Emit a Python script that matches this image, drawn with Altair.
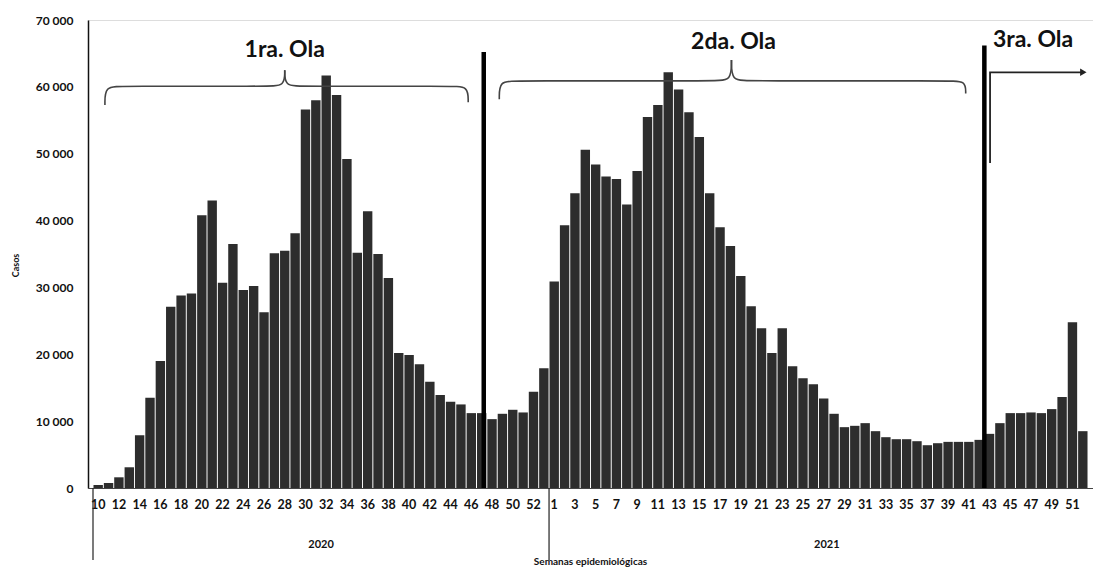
import altair as alt
import pandas as pd

# ---- data ----
weeks_2020 = [10, 11, 12, 13, 14, 15, 16, 17, 18, 19, 20, 21, 22, 23, 24, 25, 26, 27, 28, 29,
              30, 31, 32, 33, 34, 35, 36, 37, 38, 39, 40, 41, 42, 43, 44, 45, 46, 47, 48, 49,
              50, 51, 52, 53]
cases_2020 = [450, 750, 1600, 3100, 7900, 13500, 19000, 27100, 28800, 29100,
              40800, 43000, 30700, 36500, 29600, 30200, 26300, 35100, 35500, 38100,
              56600, 58000, 61700, 58800, 49200, 35200, 41400, 35000, 31400, 20200,
              19900, 18500, 15900, 13900, 12900, 12500, 11200, 11200, 10300, 11100,
              11700, 11300, 14400, 17900]
weeks_2021 = [1, 2, 3, 4, 5, 6, 7, 8, 9, 10, 11, 12, 13, 14, 15, 16, 17, 18, 19, 20,
              21, 22, 23, 24, 25, 26, 27, 28, 29, 30, 31, 32, 33, 34, 35, 36, 37, 38, 39, 40,
              41, 42, 43, 44, 45, 46, 47, 48, 49, 50, 51, 52]
cases_2021 = [30900, 39300, 44100, 50600, 48400, 46600, 46200, 42400, 47400, 55500,
              57300, 62200, 59600, 56200, 52500, 44100, 39000, 36200, 31700, 27200,
              23900, 20200, 23900, 18200, 16400, 15500, 13400, 11100, 9100, 9300,
              9700, 8500, 7600, 7300, 7300, 7000, 6400, 6700, 6900, 6900,
              6900, 7200, 8100, 9700, 11200, 11200, 11300, 11200, 11800, 13600,
              24800, 8500]
labels_2020 = [10, 12, 14, 16, 18, 20, 22, 24, 26, 28, 30, 32, 34, 36, 38, 40, 42, 44, 46, 48, 50, 52]
labels_2021 = [1, 3, 5, 7, 9, 11, 13, 15, 17, 19, 21, 23, 25, 27, 29, 31, 33, 35, 37, 39, 41, 43,
               45, 47, 49, 51]
y_ticks = [0, 10000, 20000, 30000, 40000, 50000, 60000, 70000]
years = ["2020", "2021"]
wave_names = ["1ra. Ola", "2da. Ola", "3ra. Ola"]

W, H = 1005, 468
FONT = "Lato"

n20 = len(weeks_2020)
rows = []
for i, (w, c) in enumerate(zip(weeks_2020, cases_2020)):
    rows.append({"idx": i, "year": "2020", "week": w, "cases": c})
for j, (w, c) in enumerate(zip(weeks_2021, cases_2021)):
    rows.append({"idx": n20 + j, "year": "2021", "week": w, "cases": c})
df = pd.DataFrame(rows)

# week tick labels (drawn as a text layer so none are thinned out)
tick_rows = [{"idx": weeks_2020.index(w), "t": str(w)} for w in labels_2020] + \
            [{"idx": n20 + weeks_2021.index(w), "t": str(w)} for w in labels_2021]
tick_df = pd.DataFrame(tick_rows)

xscale = alt.Scale(domain=[-0.5, len(rows) - 0.5], nice=False, zero=False)
yscale = alt.Scale(domain=[0, 70000], nice=False)

xaxis = alt.Axis(values=[0], labels=False, ticks=False, grid=False,
                 domainColor="#444", domainWidth=1.2,
                 title="Semanas epidemiológicas", titleFont=FONT, titleFontSize=10,
                 titleFontWeight="bold", titleColor="#111", titleX=502, titleY=73,
                 titleBaseline="middle", titleAnchor="middle", titleAlign="center")
yaxis = alt.Axis(values=y_ticks, labelExpr="replace(format(datum.value, ','), ',', ' ')",
                 ticks=False, grid=False, labelFont=FONT, labelFontWeight="bold",
                 labelFontSize=12, labelColor="#111", labelPadding=15,
                 domainColor="#111", domainWidth=1.5,
                 title="Casos", titleFont=FONT, titleFontSize=9, titleFontWeight="bold",
                 titleColor="#111", titleX=-73, titleY=245, titleAngle=-90,
                 titleBaseline="middle", titleAlign="center")

bars = alt.Chart(df).mark_bar(size=9.4, color="#2d2d2d").encode(
    x=alt.X("idx:Q", scale=xscale, axis=xaxis),
    y=alt.Y("cases:Q", scale=yscale, axis=yaxis),
)

ticks = alt.Chart(tick_df).mark_text(font=FONT, fontSize=12.5, fontWeight="bold", color="#111",
                                     baseline="middle").encode(
    x="idx:Q", y=alt.value(H + 17), text="t:N")

# wave separators
sep_df = pd.DataFrame({"x": [37.2, 85.5], "y0": [0, 0], "ytop": [65200, 66200]})
seps = alt.Chart(sep_df).mark_rule(color="#000", strokeWidth=4.5).encode(
    x="x:Q", y="y0:Q", y2="ytop:Q")

# curly braces (in data units)
def brace(name, x0, x1, xm, ye0, ye1, yb, yt, dx=1.6):
    pts = []
    left = [(x0, ye0), (x0, yb), (x0 + dx, yb), (xm - dx, yb), (xm, yb), (xm, yt)]
    right = [(xm, yt), (xm, yb), (xm + dx, yb), (x1 - dx, yb), (x1, yb), (x1, ye1)]
    for k, (x, y) in enumerate(left):
        pts.append({"seg": name + "L", "o": k, "x": x, "y": y})
    for k, (x, y) in enumerate(right):
        pts.append({"seg": name + "R", "o": k, "x": x, "y": y})
    return pts

br = brace("b1", 0.65, 35.7, 18.0, 57300, 57700, 60100, 62500) + \
     brace("b2", 38.7, 83.7, 61.1, 58150, 59000, 60900, 64000)
braces = alt.Chart(pd.DataFrame(br)).mark_line(interpolate="basis", color="#444",
                                               strokeWidth=1.6).encode(
    x="x:Q", y="y:Q", detail="seg:N", order="o:Q")

# arrow for the third wave
arrow_df = pd.DataFrame({"o": [0, 1, 2], "x": [86.05, 86.05, 95.0], "y": [48600, 62180, 62180]})
arrow = alt.Chart(arrow_df).mark_line(color="#222", strokeWidth=1.8).encode(
    x="x:Q", y="y:Q", order="o:Q")
head = alt.Chart(pd.DataFrame({"x": [95.05], "y": [62180]})).mark_point(
    shape="triangle-right", filled=True, color="#222", size=55, opacity=1).encode(x="x:Q", y="y:Q")

# wave titles
wave_df = pd.DataFrame({"t": wave_names, "x": [18.0, 61.3, 90.2], "y": [65500, 66700, 66950]})
waves = alt.Chart(wave_df).mark_text(font=FONT, fontSize=23, fontWeight="bold", color="#111",
                                     baseline="middle").encode(
    x="x:Q", y="y:Q", text="t:N")

# year labels under the axis
year_df = pd.DataFrame({"t": years, "x": [21.5, 70.3]})
yearlbl = alt.Chart(year_df).mark_text(font=FONT, fontSize=11, fontWeight="bold", color="#111",
                                       baseline="middle").encode(
    x="x:Q", y=alt.value(H + 57), text="t:N")

# axis extension lines below the plot (left axis and year divider)
ext_df = pd.DataFrame({"x": [-0.5, n20 - 0.5]})
ext = alt.Chart(ext_df).mark_rule(color="#222", strokeWidth=1.2).encode(
    x="x:Q", y=alt.value(H), y2=alt.value(H + 72))

chart = alt.layer(bars, seps, braces, arrow, head, waves, ticks, yearlbl, ext).properties(
    width=W, height=H,
    autosize=alt.AutoSizeParams(type="none"),
    padding={"left": 80, "top": 12, "right": 0, "bottom": 80},
).configure_view(stroke=None).configure(background="white")

chart.save("out.html", embed_options={"renderer": "svg", "actions": False})
